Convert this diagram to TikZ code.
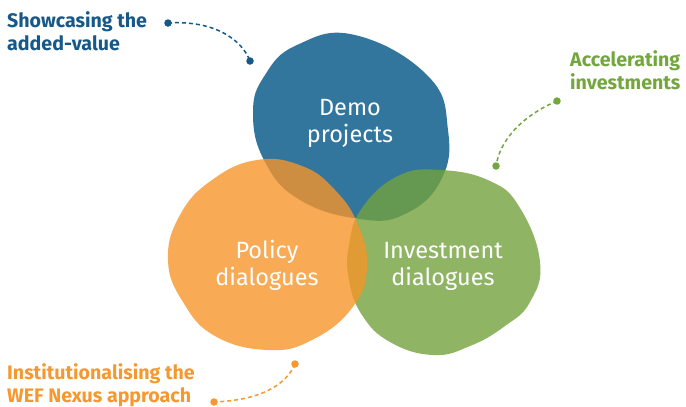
\documentclass[tikz,border=0pt]{standalone}
\usepackage{fontspec}
\setmainfont{Fira Sans}

\definecolor{demoblue}{RGB}{50,118,158}
\definecolor{policyorange}{RGB}{246,149,42}
\definecolor{investgreen}{RGB}{114,161,61}
\definecolor{labelblue}{RGB}{22,88,136}
\definecolor{labelorange}{RGB}{246,152,48}
\definecolor{labelgreen}{RGB}{116,166,62}

\tikzset{
	blobtext/.style={text=white, align=center, font=\fontsize{23.5}{27}\selectfont},
	sidelabel/.style={align=left, inner sep=0pt, font=\bfseries\fontsize{19.6}{23.5}\selectfont},
	dotline/.style={line width=1.5pt, dash pattern=on 4pt off 3pt},
	enddot/.style={circle, fill, inner sep=0pt, minimum size=7.5pt}
}

\begin{document}
\begin{tikzpicture}[x=1pt, y=-1pt]
	\useasboundingbox (0,0) rectangle (686,407);

	% Draw the blobs
	\fill[demoblue] plot[smooth cycle, tension=0.75] coordinates {
		(297,45) (355,35) (428,76) (448,130) (441,180) (405,214) (360,219)
		(300,200) (265,162) (253,113) (265,75)};
	\fill[investgreen, opacity=0.8] plot[smooth cycle, tension=0.75] coordinates {
		(440,170) (490,181) (520,208) (540,262) (530,302) (505,326) (470,346)
		(433,355) (390,342) (362,315) (349,280) (349,245) (362,208) (398,176)};
	\fill[policyorange, opacity=0.8] plot[smooth cycle, tension=0.75] coordinates {
		(257,160) (302,166) (335,190) (358,225) (367,268) (352,308) (312,340)
		(268,350) (215,336) (183,302) (168,260) (180,215) (212,180)};

	% Texts in the blobs
	\node[blobtext] (demo) at (350,123) {Demo\\projects};
	\node[blobtext] (policy) at (267,265) {Policy\\dialogues};
	\node[blobtext] (invest) at (443,266) {Investment\\dialogues};

	% Side labels
	\node[sidelabel, text=labelblue, anchor=north west] (showcase) at (7,11) {Showcasing the\\added-value};
	\node[sidelabel, text=labelgreen, anchor=north west] (accel) at (570,50) {Accelerating\\investments};
	\node[sidelabel, text=labelorange, anchor=north west] (instit) at (7,363) {Institutionalising the\\WEF Nexus approach};

	% Dotted connectors
	\coordinate (showA) at (168,23);
	\coordinate (showB) at (250,61);
	\coordinate (accA) at (557,101);
	\coordinate (accB) at (496,166);
	\coordinate (instA) at (295,364);
	\coordinate (instB) at (214,402);

	\draw[dotline, labelblue] (showA) .. controls (215,20) and (242,40) .. (showB);
	\draw[dotline, labelgreen] (accA) .. controls (522,116) and (500,140) .. (accB);
	\draw[dotline, labelorange] (instA) .. controls (282,394) and (242,401) .. (instB);

	\foreach \p/\c in {showA/labelblue, showB/labelblue, accA/labelgreen, accB/labelgreen, instA/labelorange, instB/labelorange}
		\node[enddot, fill=\c] at (\p) {};
\end{tikzpicture}
\end{document}
